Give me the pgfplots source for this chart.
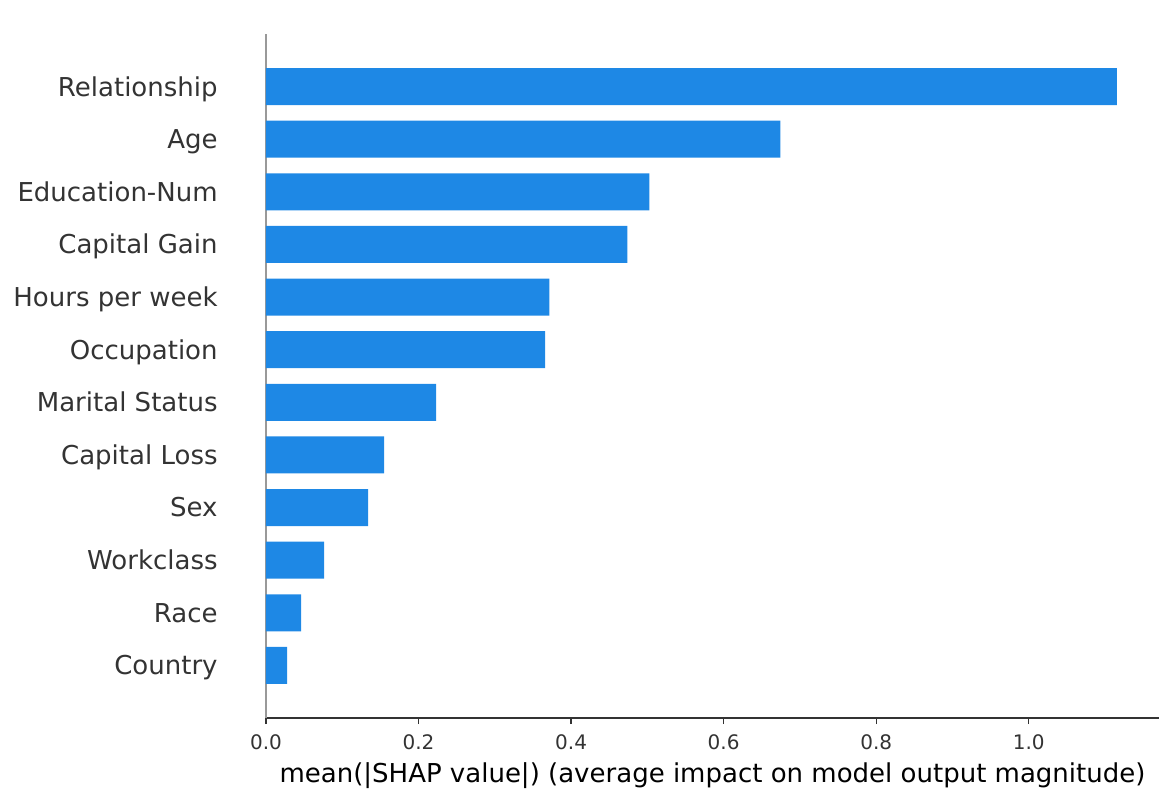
\documentclass[border=0pt]{standalone}
\usepackage{fontspec}
\setmainfont{DejaVu Sans}
\usepackage{pgfplots}
\pgfplotsset{compat=1.18}
\definecolor{shapblue}{HTML}{1E88E5}
\definecolor{txt}{HTML}{333333}
\definecolor{spine}{HTML}{999999}
\begin{document}
\begin{tikzpicture}
\begin{axis}[
  scale only axis,
  width=446.5pt, height=342pt,
  at={(0,0)}, anchor=south west,
  xbar, bar width=18.5pt,
  xmin=0, xmax=1.1708,
  ymin=-1, ymax=12,
  ytick={0,...,11},
  yticklabels={Country,Race,Workclass,Sex,Capital Loss,Marital Status,Occupation,Hours per week,Capital Gain,Education-Num,Age,Relationship},
  xtick={0,0.2,0.4,0.6,0.8,1.0},
  xticklabels={0.0,0.2,0.4,0.6,0.8,1.0},
  axis x line*=bottom,
  axis y line*=left,
  x axis line style={draw=txt, line width=0.75pt, -},
  y axis line style={draw=spine, line width=0.6pt, -},
  y tick style={draw=none},
  major y tick style={draw=none},
  x tick style={draw=txt, line width=0.6pt},
  tick align=outside,
  major tick length=3pt,
  xticklabel style={font=\fontsize{10}{12}\selectfont, text=txt, inner sep=0pt, yshift=-5pt},
  yticklabel style={font=\fontsize{13}{16}\selectfont, text=txt, inner sep=0pt, anchor=base east, xshift=-21pt, yshift=-4.7pt},
  xlabel={mean(|SHAP value|) (average impact on model output magnitude)},
  xlabel style={font=\fontsize{13}{16}\selectfont, text=black, at={(axis description cs:0.5,0)}, anchor=base, yshift=-32pt},
  /pgf/number format/assume math mode=true,
  clip=false,
]
\addplot[fill=shapblue, draw=none] coordinates {
(0.0276,0) (0.0459,1) (0.0761,2) (0.1339,3) (0.1549,4) (0.2231,5) (0.3661,6) (0.3714,7) (0.4738,8) (0.5026,9) (0.6745,10) (1.1155,11)
};
\end{axis}
\useasboundingbox (-133pt,-42pt) rectangle (455pt,359pt);
\end{tikzpicture}
\end{document}
